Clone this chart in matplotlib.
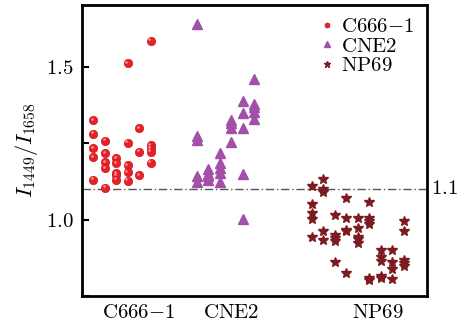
import numpy as np
import matplotlib
matplotlib.use("Agg")
from matplotlib import pyplot as plt
from matplotlib import transforms

plt.rcParams['font.family'] = 'serif'
plt.rcParams['font.serif'] = ['cmr10', 'DejaVu Serif']
plt.rcParams['mathtext.fontset'] = 'cm'
plt.rcParams['axes.formatter.use_mathtext'] = True

# column positions (jitter slots) and ratio values
c666_x = [1] * 5 + [2] * 5 + [3] * 5 + [4] * 5 + [5] * 3 + [6] * 5
c666_y = [1.325, 1.281, 1.234, 1.204, 1.131,
          1.259, 1.218, 1.189, 1.169, 1.104,
          1.202, 1.185, 1.153, 1.145, 1.131,
          1.512, 1.252, 1.179, 1.155, 1.127,
          1.300, 1.223, 1.145,
          1.586, 1.244, 1.234, 1.223, 1.186]

cne2_x = [10] * 5 + [11] * 4 + [12] * 5 + [13] * 4 + [14] * 5 + [15] * 5
cne2_y = [1.641, 1.275, 1.261, 1.142, 1.123,
          1.166, 1.150, 1.142, 1.131,
          1.218, 1.185, 1.169, 1.153, 1.123,
          1.327, 1.316, 1.300, 1.254,
          1.387, 1.349, 1.300, 1.150, 1.003,
          1.461, 1.379, 1.370, 1.354, 1.329]

np69_x = ([20] * 5 + [21] * 5 + [22] * 5 + [23] * 5 + [24] * 5 + [25] * 6
          + [26] * 5 + [27] * 4 + [28] * 5)
np69_y = [1.109, 1.051, 1.022, 1.002, 0.943,
          1.134, 1.101, 1.089, 0.962, 0.934,
          1.014, 0.949, 0.940, 0.931, 0.860,
          1.070, 1.006, 0.967, 0.962, 0.825,
          1.007, 0.971, 0.943, 0.935, 0.924,
          1.057, 1.006, 0.994, 0.987, 0.809, 0.804,
          0.902, 0.877, 0.864, 0.817, 0.809,
          0.900, 0.860, 0.837, 0.807,
          0.994, 0.963, 0.869, 0.858, 0.847]

group_pos = [4.9, 13.0, 25.7]
group_labels = [r'$\mathrm{C666{-}1}$', r'$\mathrm{CNE2}$', r'$\mathrm{NP69}$']
threshold = 1.1

fig = plt.figure(figsize=(4.68, 3.26), dpi=100)
ax = fig.add_axes([0.175, 0.092, 0.737, 0.893])

ax.axhline(threshold, color='#555555', lw=1.0, ls=(0, (6, 2, 1, 2)), zorder=1)

ax.plot(c666_x, c666_y, 'o', ms=6.0, color='#e8202a', mec='#c81820', mew=0.5,
        label=r'$\mathrm{C666{-}1}$', zorder=3)
hl = transforms.offset_copy(ax.transData, fig=fig, x=-1.0, y=1.0, units='points')
ax.plot(c666_x, c666_y, 'o', ms=1.8, color='#ff9a9a', mew=0, transform=hl, zorder=4)
ax.plot(cne2_x, cne2_y, '^', ms=6.5, color='#a24fa8', mec='#a24fa8',
        label=r'$\mathrm{CNE2}$', zorder=3)
ax.plot(np69_x, np69_y, '*', ms=7.5, color='#7c1c20', mec='#7c1c20',
        label=r'$\mathrm{NP69}$', zorder=3)

ax.set_xlim(0, 30)
ax.set_ylim(0.752, 1.703)
ax.set_xticks(group_pos)
ax.set_xticklabels(group_labels, fontsize=15)
ax.tick_params(axis='x', length=0, pad=6)
ax.set_yticks([1.0, 1.5])
ax.set_yticklabels([r'$1.0$', r'$1.5$'], fontsize=15)
ax.set_yticks([0.75, 1.25], minor=True)
ax.tick_params(axis='y', which='both', direction='in', length=5, width=1.5, pad=6)
ax.set_ylabel(r'$I_{1449}/I_{1658}$', fontsize=16, labelpad=4)

ax.text(1.012, threshold, r'$1.1$', transform=ax.get_yaxis_transform(),
        va='center', ha='left', fontsize=15)

for s in ax.spines.values():
    s.set_linewidth(2.0)

ax.legend(loc='upper right', frameon=False, fontsize=15, handlelength=0.6,
          handletextpad=0.4, borderaxespad=0.2, labelspacing=0.05,
          markerscale=0.6)

fig.savefig('out.png', dpi=100)
